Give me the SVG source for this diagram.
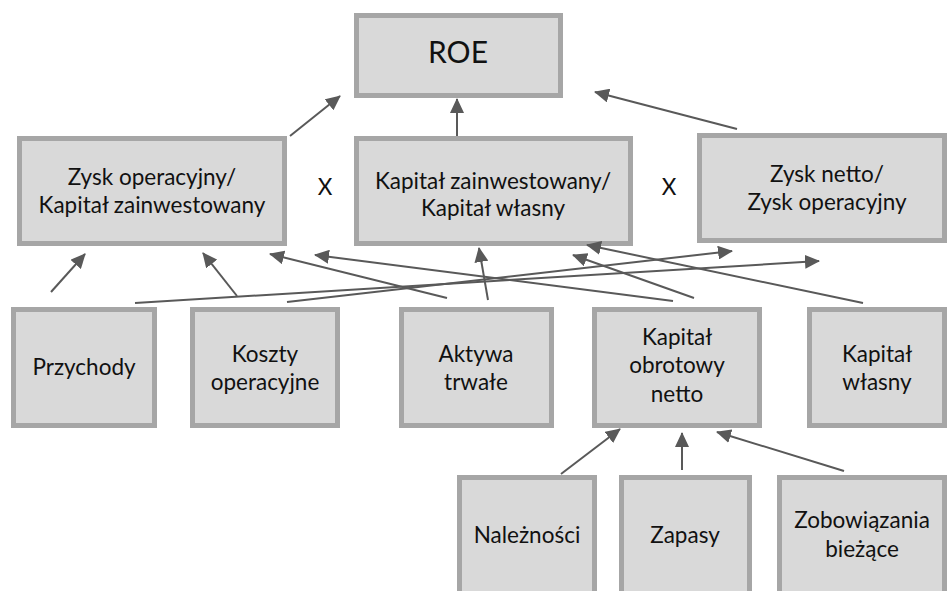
<svg xmlns="http://www.w3.org/2000/svg" width="947" height="591" viewBox="0 0 947 591">
<style>
.box{fill:#d9d9d9;stroke:#a6a6a6;stroke-width:5}
.t{font-family:Lato,"Open Sans","Liberation Sans",sans-serif;font-size:22.5px;fill:#111;text-anchor:middle}
.big{font-size:30px}
.c line{stroke:#595959;stroke-width:2;marker-end:url(#ah)}
</style>
<defs>
<marker id="ah" markerUnits="userSpaceOnUse" markerWidth="15" markerHeight="14" refX="14" refY="7" orient="auto">
<path d="M0,0 L15,7 L0,14 z" fill="#595959"/>
</marker>
</defs>
<rect width="947" height="591" fill="#fff"/>
<g id="roe"><rect class="box" x="356.5" y="15.5" width="204" height="80"/><text class="t big" x="458" y="63">ROE</text></g>
<g id="zysk-op-kap"><rect class="box" x="19.5" y="138.5" width="265" height="105"/><text class="t" x="152" y="185">Zysk operacyjny/</text><text class="t" x="152" y="213">Kapitał zainwestowany</text></g>
<g id="kap-zainw-wlasny"><rect class="box" x="356.5" y="138.5" width="274" height="105"/><text class="t" x="493" y="189">Kapitał zainwestowany/</text><text class="t" x="493" y="216">Kapitał własny</text></g>
<g id="zysk-netto-op"><rect class="box" x="699.5" y="135.5" width="245" height="105"/><text class="t" x="827" y="182">Zysk netto/</text><text class="t" x="827" y="210">Zysk operacyjny</text></g>
<g id="x1"><text class="t" x="325" y="195">X</text></g>
<g id="x2"><text class="t" x="669" y="195">X</text></g>
<g id="przychody"><rect class="box" x="13.5" y="309.5" width="141" height="116"/><text class="t" x="84" y="375">Przychody</text></g>
<g id="koszty"><rect class="box" x="192.5" y="309.5" width="145" height="116"/><text class="t" x="265" y="362">Koszty</text><text class="t" x="265" y="390">operacyjne</text></g>
<g id="aktywa"><rect class="box" x="401.5" y="309.5" width="150" height="116"/><text class="t" x="476" y="362">Aktywa</text><text class="t" x="476" y="390">trwałe</text></g>
<g id="kap-obrot"><rect class="box" x="594.5" y="309.5" width="165" height="116"/><text class="t" x="677" y="345">Kapitał</text><text class="t" x="677" y="373">obrotowy</text><text class="t" x="677" y="402">netto</text></g>
<g id="kap-wlasny"><rect class="box" x="809.5" y="309.5" width="135" height="116"/><text class="t" x="877" y="362">Kapitał</text><text class="t" x="877" y="390">własny</text></g>
<g id="naleznosci"><rect class="box" x="459.5" y="477.5" width="135" height="130"/><text class="t" x="527" y="543">Należności</text></g>
<g id="zapasy"><rect class="box" x="621.5" y="477.5" width="128" height="130"/><text class="t" x="685" y="543">Zapasy</text></g>
<g id="zobowiazania"><rect class="box" x="779.5" y="477.5" width="165" height="130"/><text class="t" x="862" y="528">Zobowiązania</text><text class="t" x="862" y="557">bieżące</text></g>
<g id="connectors" class="c">
<line x1="290" y1="136" x2="340" y2="96"/>
<line x1="457" y1="136" x2="457" y2="99"/>
<line x1="737" y1="129" x2="595" y2="92"/>
<line x1="51" y1="292" x2="85" y2="254"/>
<line x1="237" y1="296" x2="203" y2="253"/>
<line x1="135" y1="303" x2="819" y2="261"/>
<line x1="287" y1="302" x2="732" y2="251"/>
<line x1="488" y1="300" x2="479" y2="248"/>
<line x1="447" y1="298" x2="270" y2="254"/>
<line x1="673" y1="301" x2="315" y2="255"/>
<line x1="694" y1="298" x2="573" y2="255"/>
<line x1="863" y1="303" x2="587" y2="245"/>
<line x1="561" y1="474" x2="620" y2="429"/>
<line x1="682" y1="470" x2="682" y2="433"/>
<line x1="844" y1="471" x2="717" y2="432"/>
</g>
</svg>
